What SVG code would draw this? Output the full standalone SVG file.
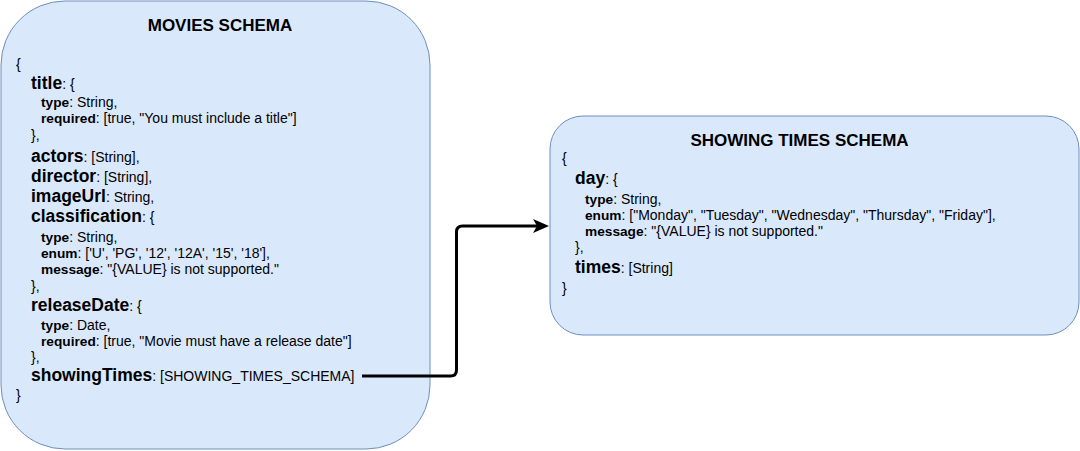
<svg xmlns="http://www.w3.org/2000/svg" width="1080" height="451" viewBox="0 0 1080 451">
<style>
  .box { fill: #dae8fc; stroke: #6c8ebf; stroke-width: 1; }
  text { font-family: "Liberation Sans", Arial, sans-serif; font-size: 14px; fill: #000000; }
  .hd { font-weight: bold; font-size: 17px; text-anchor: middle; }
  .k1 { font-weight: bold; font-size: 17.5px; }
  .k2 { font-weight: bold; font-size: 13.7px; }
  .conn { fill: none; stroke: #000000; stroke-width: 3; stroke-linejoin: round; }
</style>
<defs>
  <marker id="arrow" markerUnits="userSpaceOnUse" markerWidth="16" markerHeight="14" refX="8" refY="7" orient="auto" viewBox="0 0 16 14">
    <path d="M0,0 L16,7 L0,14 L4,7 Z" fill="#000000"/>
  </marker>
</defs>

<g id="movies-schema">
  <rect class="box" x="1" y="1" width="429" height="448" rx="64" ry="64"/>
  <text class="hd" x="220" y="31">MOVIES SCHEMA</text>
  <text x="16" y="69">{</text>
  <text x="31" y="89"><tspan class="k1">title</tspan>: {</text>
  <text x="41" y="107"><tspan class="k2">type</tspan>: String,</text>
  <text x="41" y="123"><tspan class="k2">required</tspan>: [true, "You must include a title"]</text>
  <text x="31" y="140">},</text>
  <text x="31" y="162"><tspan class="k1">actors</tspan>: [String],</text>
  <text x="31" y="182"><tspan class="k1">director</tspan>: [String],</text>
  <text x="31" y="202"><tspan class="k1">imageUrl</tspan>: String,</text>
  <text x="31" y="222"><tspan class="k1">classification</tspan>: {</text>
  <text x="41" y="242"><tspan class="k2">type</tspan>: String,</text>
  <text x="41" y="258"><tspan class="k2">enum</tspan>: ['U', 'PG', '12', '12A', '15', '18'],</text>
  <text x="41" y="274"><tspan class="k2">message</tspan>: "{VALUE} is not supported."</text>
  <text x="31" y="291">},</text>
  <text x="31" y="311"><tspan class="k1">releaseDate</tspan>: {</text>
  <text x="41" y="330"><tspan class="k2">type</tspan>: Date,</text>
  <text x="41" y="346"><tspan class="k2">required</tspan>: [true, "Movie must have a release date"]</text>
  <text x="31" y="362">},</text>
  <text x="31" y="381"><tspan class="k1">showingTimes</tspan>: [SHOWING_TIMES_SCHEMA]</text>
  <text x="16" y="400">}</text>
</g>

<g id="showing-times-schema">
  <rect class="box" x="550" y="116" width="529" height="219" rx="33" ry="33"/>
  <text class="hd" x="799.5" y="146">SHOWING TIMES SCHEMA</text>
  <text x="562" y="163">{</text>
  <text x="575" y="184"><tspan class="k1">day</tspan>: {</text>
  <text x="585" y="204"><tspan class="k2">type</tspan>: String,</text>
  <text x="585" y="220"><tspan class="k2">enum</tspan>: ["Monday", "Tuesday", "Wednesday", "Thursday", "Friday"],</text>
  <text x="585" y="236"><tspan class="k2">message</tspan>: "{VALUE} is not supported."</text>
  <text x="575" y="252">},</text>
  <text x="575" y="273"><tspan class="k1">times</tspan>: [String]</text>
  <text x="562" y="293">}</text>
</g>

<g id="connectors">
  <path class="conn" d="M362,376 L450.5,376 Q456.5,376 456.5,370 L456.5,232 Q456.5,226 462.5,226 L541,226" marker-end="url(#arrow)"/>
</g>
</svg>
